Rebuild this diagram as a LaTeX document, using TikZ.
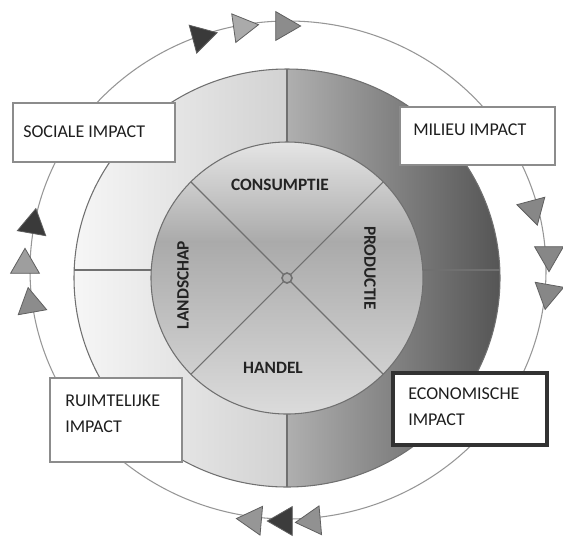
\documentclass[tikz,border=0pt]{standalone}
\usepackage{fontspec}
\setmainfont{Carlito}
\usetikzlibrary{shapes.geometric}

\definecolor{schijfboven}{RGB}{230,230,230}
\definecolor{schijfband}{RGB}{170,170,170}
\definecolor{schijfonder}{RGB}{220,220,220}

\tikzset{
  lijngrijs/.style={draw={rgb, 255:red, 112; green, 112; blue, 112 }, line width=0.8pt},
  buitenlijn/.style={draw={rgb, 255:red, 150; green, 150; blue, 150 }, line width=0.8pt},
  impactkader/.style={draw={rgb, 255:red, 140; green, 140; blue, 140 }, line width=1.6pt, fill=white, inner sep=0pt},
  impacttekst/.style={font=\fontsize{13.5}{19}\selectfont, text={rgb, 255:red, 30; green, 30; blue, 30 }, align=left, inner sep=0pt, anchor=north west},
  sectortekst/.style={font=\bfseries\fontsize{13}{15}\selectfont, text={rgb, 255:red, 35; green, 35; blue, 35 }, inner sep=0pt},
  driehoek/.style={regular polygon, regular polygon sides=3, minimum size=25pt, inner sep=0pt, draw={rgb, 255:red, 95; green, 95; blue, 95 }, line width=0.6pt}
}

\begin{document}
\begin{tikzpicture}[x=0.75pt,y=0.75pt,yscale=-1,xscale=1]
\useasboundingbox (0,0) rectangle (563,540);

%buitenste cirkel
\draw [buitenlijn] (288,270) ellipse [x radius=258, y radius=249];

%ring, linker en rechter helft
\shade [left color={rgb, 255:red, 246; green, 246; blue, 246 }, right color={rgb, 255:red, 210; green, 210; blue, 210 }] (287,69) arc [start angle=270, end angle=90, x radius=213, y radius=209] -- (287,414) arc [start angle=90, end angle=270, radius=136] -- cycle ;
\shade [left color={rgb, 255:red, 175; green, 175; blue, 175 }, right color={rgb, 255:red, 85; green, 85; blue, 85 }] (287,69) arc [start angle=-90, end angle=90, x radius=213, y radius=209] -- (287,414) arc [start angle=90, end angle=-90, radius=136] -- cycle ;
\draw [lijngrijs] (287,278) ellipse [x radius=213, y radius=209];
\draw [lijngrijs] (287,69) -- (287,142) ;
\draw [lijngrijs] (287,414) -- (287,487) ;
\draw [lijngrijs] (74,270) -- (152,270) ;
\draw [lijngrijs] (422,270) -- (500,270) ;

%binnenste schijf (y weer omhoog, zodat de arcering rechtop staat)
\begin{scope}[yscale=-1]
\clip (287,-278) circle [radius=136] ;
\shade [top color=schijfboven, bottom color=schijfband] (150,-140) rectangle (425,-242) ;
\shade [top color=schijfband, bottom color=schijfonder] (150,-241) rectangle (425,-416) ;
\end{scope}
\draw [lijngrijs] (287,278) circle [radius=136] ;
\draw [lijngrijs] (190.8,181.8) -- (383.2,374.2) ;
\draw [lijngrijs] (383.2,181.8) -- (190.8,374.2) ;
\draw [lijngrijs, line width=1.2pt, fill={rgb, 255:red, 175; green, 175; blue, 175 }] (287,278) circle [radius=5] ;

\node [sectortekst] (consumptie) at (280,185) {CONSUMPTIE};
\node [sectortekst] (handel) at (273,368) {HANDEL};
\node [sectortekst, rotate=90] (landschap) at (183,285) {LANDSCHAP};
\node [sectortekst, rotate=-90] (productie) at (370,268) {PRODUCTIE};

%kaders
\node [impactkader, minimum width=121.5pt, minimum height=44.25pt] (sociaal) at (94,132.5) {};
\node [impacttekst, anchor=base west] (sociaaltekst) at (23,137) {SOCIALE IMPACT};
\node [impactkader, minimum width=116.25pt, minimum height=43.5pt] (milieu) at (477.5,136) {};
\node [impacttekst, anchor=base west] (milieutekst) at (413,135) {MILIEU IMPACT};
\node [impactkader, minimum width=99pt, minimum height=63pt] (ruimtelijk) at (116,420) {};
\node [impacttekst] (ruimtelijktekst) at (65,395) {RUIMTELIJKE\\IMPACT};
\node [impactkader, minimum width=115.5pt, minimum height=54pt, draw={rgb, 255:red, 50; green, 50; blue, 50 }, line width=2.5pt] (economisch) at (470,409) {};
\node [impacttekst] (economischtekst) at (408,388) {ECONOMISCHE\\IMPACT};

%pijlen op de buitenste cirkel
\node [driehoek, fill={rgb, 255:red, 58; green, 58; blue, 58 }, rotate=-75] (boven1) at (201,37) {};
\node [driehoek, fill={rgb, 255:red, 170; green, 170; blue, 170 }, rotate=-82] (boven2) at (242,27) {};
\node [driehoek, fill={rgb, 255:red, 140; green, 140; blue, 140 }, rotate=-90] (boven3) at (284,26) {};

\node [driehoek, fill={rgb, 255:red, 135; green, 135; blue, 135 }, rotate=-165] (rechts1) at (533,209) {};
\node [driehoek, fill={rgb, 255:red, 135; green, 135; blue, 135 }, rotate=180] (rechts2) at (549,255) {};
\node [driehoek, fill={rgb, 255:red, 135; green, 135; blue, 135 }, rotate=170] (rechts3) at (548,293) {};

\node [driehoek, fill={rgb, 255:red, 150; green, 150; blue, 150 }, rotate=85] (onder1) at (253,520) {};
\node [driehoek, fill={rgb, 255:red, 60; green, 60; blue, 60 }, rotate=90] (onder2) at (284,521) {};
\node [driehoek, fill={rgb, 255:red, 145; green, 145; blue, 145 }, rotate=95] (onder3) at (312,521) {};

\node [driehoek, fill={rgb, 255:red, 58; green, 58; blue, 58 }, rotate=-10] (links1) at (33,225) {};
\node [driehoek, fill={rgb, 255:red, 158; green, 158; blue, 158 }, rotate=0] (links2) at (25,265) {};
\node [driehoek, fill={rgb, 255:red, 140; green, 140; blue, 140 }, rotate=10] (links3) at (31,304) {};

\end{tikzpicture}
\end{document}
